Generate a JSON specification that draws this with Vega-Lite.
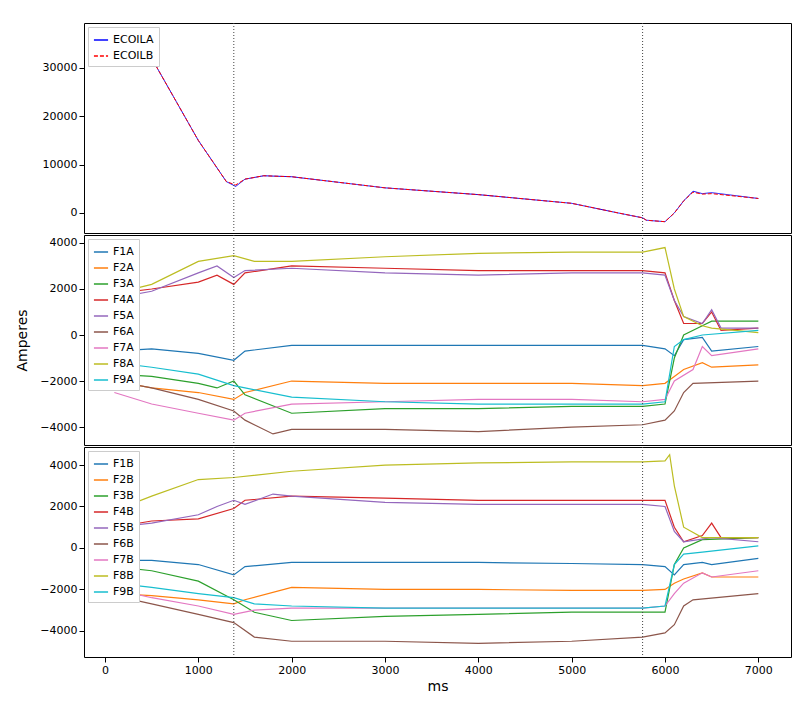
{
"$schema":"https://vega.github.io/schema/vega-lite/v6.json",
"padding":{"left":15,"top":22,"right":5,"bottom":5},
"spacing":0,
"config":{"view":{"stroke":"black","strokeWidth":1},"axis":{"grid":false,"domain":false,"tickColor":"black","labelColor":"black","labelFontSize":11,"labelFont":"DejaVu Sans","titleFont":"DejaVu Sans","titleFontWeight":"normal","titleFontSize":14},"legend":{"labelFont":"DejaVu Sans","labelFontSize":11,"symbolType":"stroke","symbolSize":200,"orient":"top-left","fillColor":"white","strokeColor":"#ccc","padding":5,"rowPadding":3,"offset":4}},
"datasets":{
"vl":[{"t":1380},{"t":5760}],
"top":[
{"s":"ECOILA","t":100,"v":37000},{"s":"ECOILA","t":300,"v":36000},{"s":"ECOILA","t":500,"v":32000},{"s":"ECOILA","t":1000,"v":15000},{"s":"ECOILA","t":1300,"v":6500},{"s":"ECOILA","t":1400,"v":5500},{"s":"ECOILA","t":1500,"v":7000},{"s":"ECOILA","t":1700,"v":7700},{"s":"ECOILA","t":2000,"v":7500},{"s":"ECOILA","t":3000,"v":5200},{"s":"ECOILA","t":4000,"v":3800},{"s":"ECOILA","t":5000,"v":2000},{"s":"ECOILA","t":5500,"v":0},{"s":"ECOILA","t":5760,"v":-1000},{"s":"ECOILA","t":5800,"v":-1500},{"s":"ECOILA","t":6000,"v":-1800},{"s":"ECOILA","t":6100,"v":0},{"s":"ECOILA","t":6200,"v":2500},{"s":"ECOILA","t":6300,"v":4500},{"s":"ECOILA","t":6400,"v":4000},{"s":"ECOILA","t":6500,"v":4200},{"s":"ECOILA","t":7000,"v":3000},
{"s":"ECOILB","t":100,"v":36500},{"s":"ECOILB","t":300,"v":35800},{"s":"ECOILB","t":500,"v":32000},{"s":"ECOILB","t":1000,"v":15000},{"s":"ECOILB","t":1300,"v":6500},{"s":"ECOILB","t":1400,"v":5800},{"s":"ECOILB","t":1500,"v":7000},{"s":"ECOILB","t":1700,"v":7700},{"s":"ECOILB","t":2000,"v":7500},{"s":"ECOILB","t":3000,"v":5200},{"s":"ECOILB","t":4000,"v":3800},{"s":"ECOILB","t":5000,"v":2000},{"s":"ECOILB","t":5500,"v":0},{"s":"ECOILB","t":5760,"v":-1000},{"s":"ECOILB","t":5800,"v":-1500},{"s":"ECOILB","t":6000,"v":-1800},{"s":"ECOILB","t":6100,"v":0},{"s":"ECOILB","t":6200,"v":2500},{"s":"ECOILB","t":6300,"v":4300},{"s":"ECOILB","t":6400,"v":3900},{"s":"ECOILB","t":6500,"v":4000},{"s":"ECOILB","t":7000,"v":3000}],
"mid":[
{"s":"F1A","t":100,"v":-700},{"s":"F1A","t":500,"v":-600},{"s":"F1A","t":1000,"v":-800},{"s":"F1A","t":1380,"v":-1100},{"s":"F1A","t":1500,"v":-700},{"s":"F1A","t":2000,"v":-450},{"s":"F1A","t":3000,"v":-450},{"s":"F1A","t":4000,"v":-450},{"s":"F1A","t":5000,"v":-450},{"s":"F1A","t":5760,"v":-450},{"s":"F1A","t":6000,"v":-600},{"s":"F1A","t":6100,"v":-900},{"s":"F1A","t":6200,"v":-200},{"s":"F1A","t":6400,"v":-100},{"s":"F1A","t":6500,"v":-700},{"s":"F1A","t":7000,"v":-500},
{"s":"F2A","t":100,"v":-2000},{"s":"F2A","t":500,"v":-2300},{"s":"F2A","t":1000,"v":-2500},{"s":"F2A","t":1380,"v":-2800},{"s":"F2A","t":1500,"v":-2500},{"s":"F2A","t":2000,"v":-2000},{"s":"F2A","t":3000,"v":-2100},{"s":"F2A","t":4000,"v":-2100},{"s":"F2A","t":5000,"v":-2100},{"s":"F2A","t":5760,"v":-2200},{"s":"F2A","t":6000,"v":-2100},{"s":"F2A","t":6100,"v":-1800},{"s":"F2A","t":6200,"v":-1500},{"s":"F2A","t":6400,"v":-1200},{"s":"F2A","t":6500,"v":-1400},{"s":"F2A","t":7000,"v":-1300},
{"s":"F3A","t":100,"v":-1700},{"s":"F3A","t":500,"v":-1800},{"s":"F3A","t":1000,"v":-2100},{"s":"F3A","t":1200,"v":-2300},{"s":"F3A","t":1380,"v":-2000},{"s":"F3A","t":1500,"v":-2600},{"s":"F3A","t":2000,"v":-3400},{"s":"F3A","t":3000,"v":-3200},{"s":"F3A","t":4000,"v":-3200},{"s":"F3A","t":5000,"v":-3100},{"s":"F3A","t":5760,"v":-3100},{"s":"F3A","t":6000,"v":-3000},{"s":"F3A","t":6100,"v":-1000},{"s":"F3A","t":6200,"v":0},{"s":"F3A","t":6400,"v":400},{"s":"F3A","t":6500,"v":600},{"s":"F3A","t":7000,"v":600},
{"s":"F4A","t":100,"v":1800},{"s":"F4A","t":500,"v":2000},{"s":"F4A","t":1000,"v":2300},{"s":"F4A","t":1200,"v":2600},{"s":"F4A","t":1380,"v":2200},{"s":"F4A","t":1500,"v":2700},{"s":"F4A","t":2000,"v":3000},{"s":"F4A","t":3000,"v":2900},{"s":"F4A","t":4000,"v":2800},{"s":"F4A","t":5000,"v":2800},{"s":"F4A","t":5760,"v":2800},{"s":"F4A","t":6000,"v":2700},{"s":"F4A","t":6100,"v":1500},{"s":"F4A","t":6200,"v":500},{"s":"F4A","t":6400,"v":500},{"s":"F4A","t":6500,"v":1000},{"s":"F4A","t":6600,"v":200},{"s":"F4A","t":7000,"v":300},
{"s":"F5A","t":100,"v":1600},{"s":"F5A","t":500,"v":1900},{"s":"F5A","t":1000,"v":2700},{"s":"F5A","t":1200,"v":3000},{"s":"F5A","t":1380,"v":2500},{"s":"F5A","t":1500,"v":2800},{"s":"F5A","t":2000,"v":2900},{"s":"F5A","t":3000,"v":2700},{"s":"F5A","t":4000,"v":2600},{"s":"F5A","t":5000,"v":2700},{"s":"F5A","t":5760,"v":2700},{"s":"F5A","t":6000,"v":2600},{"s":"F5A","t":6100,"v":1500},{"s":"F5A","t":6200,"v":800},{"s":"F5A","t":6400,"v":500},{"s":"F5A","t":6500,"v":1100},{"s":"F5A","t":6600,"v":300},{"s":"F5A","t":7000,"v":300},
{"s":"F6A","t":100,"v":-2000},{"s":"F6A","t":500,"v":-2300},{"s":"F6A","t":1000,"v":-2800},{"s":"F6A","t":1380,"v":-3300},{"s":"F6A","t":1500,"v":-3700},{"s":"F6A","t":1800,"v":-4300},{"s":"F6A","t":2000,"v":-4100},{"s":"F6A","t":3000,"v":-4100},{"s":"F6A","t":4000,"v":-4200},{"s":"F6A","t":5000,"v":-4000},{"s":"F6A","t":5760,"v":-3900},{"s":"F6A","t":6000,"v":-3700},{"s":"F6A","t":6100,"v":-3300},{"s":"F6A","t":6200,"v":-2500},{"s":"F6A","t":6300,"v":-2100},{"s":"F6A","t":7000,"v":-2000},
{"s":"F7A","t":100,"v":-2500},{"s":"F7A","t":500,"v":-3000},{"s":"F7A","t":1000,"v":-3400},{"s":"F7A","t":1380,"v":-3700},{"s":"F7A","t":1500,"v":-3400},{"s":"F7A","t":2000,"v":-3000},{"s":"F7A","t":3000,"v":-2900},{"s":"F7A","t":4000,"v":-2800},{"s":"F7A","t":5000,"v":-2800},{"s":"F7A","t":5760,"v":-2900},{"s":"F7A","t":6000,"v":-2800},{"s":"F7A","t":6100,"v":-2000},{"s":"F7A","t":6300,"v":-1500},{"s":"F7A","t":6400,"v":-500},{"s":"F7A","t":6500,"v":-900},{"s":"F7A","t":7000,"v":-600},
{"s":"F8A","t":100,"v":1800},{"s":"F8A","t":500,"v":2200},{"s":"F8A","t":1000,"v":3200},{"s":"F8A","t":1380,"v":3450},{"s":"F8A","t":1600,"v":3200},{"s":"F8A","t":2000,"v":3200},{"s":"F8A","t":3000,"v":3400},{"s":"F8A","t":4000,"v":3550},{"s":"F8A","t":5000,"v":3600},{"s":"F8A","t":5760,"v":3600},{"s":"F8A","t":6000,"v":3800},{"s":"F8A","t":6100,"v":2000},{"s":"F8A","t":6200,"v":800},{"s":"F8A","t":6400,"v":400},{"s":"F8A","t":6500,"v":300},{"s":"F8A","t":7000,"v":100},
{"s":"F9A","t":100,"v":-1200},{"s":"F9A","t":500,"v":-1400},{"s":"F9A","t":1000,"v":-1700},{"s":"F9A","t":1380,"v":-2200},{"s":"F9A","t":1500,"v":-2300},{"s":"F9A","t":2000,"v":-2700},{"s":"F9A","t":3000,"v":-2900},{"s":"F9A","t":4000,"v":-3000},{"s":"F9A","t":5000,"v":-3000},{"s":"F9A","t":5760,"v":-3000},{"s":"F9A","t":6000,"v":-2900},{"s":"F9A","t":6100,"v":-500},{"s":"F9A","t":6200,"v":-200},{"s":"F9A","t":6400,"v":0},{"s":"F9A","t":7000,"v":200}],
"bot":[
{"s":"F1B","t":100,"v":-600},{"s":"F1B","t":500,"v":-600},{"s":"F1B","t":1000,"v":-800},{"s":"F1B","t":1380,"v":-1300},{"s":"F1B","t":1500,"v":-900},{"s":"F1B","t":2000,"v":-700},{"s":"F1B","t":3000,"v":-700},{"s":"F1B","t":4000,"v":-700},{"s":"F1B","t":5000,"v":-750},{"s":"F1B","t":5760,"v":-800},{"s":"F1B","t":6000,"v":-900},{"s":"F1B","t":6100,"v":-1300},{"s":"F1B","t":6200,"v":-800},{"s":"F1B","t":6400,"v":-700},{"s":"F1B","t":6500,"v":-800},{"s":"F1B","t":7000,"v":-500},
{"s":"F2B","t":100,"v":-2200},{"s":"F2B","t":500,"v":-2300},{"s":"F2B","t":1000,"v":-2500},{"s":"F2B","t":1380,"v":-2700},{"s":"F2B","t":1500,"v":-2500},{"s":"F2B","t":2000,"v":-1900},{"s":"F2B","t":3000,"v":-2000},{"s":"F2B","t":4000,"v":-2000},{"s":"F2B","t":5000,"v":-2050},{"s":"F2B","t":5760,"v":-2050},{"s":"F2B","t":6000,"v":-2000},{"s":"F2B","t":6100,"v":-1700},{"s":"F2B","t":6200,"v":-1500},{"s":"F2B","t":6400,"v":-1200},{"s":"F2B","t":6500,"v":-1400},{"s":"F2B","t":7000,"v":-1400},
{"s":"F3B","t":100,"v":-900},{"s":"F3B","t":500,"v":-1100},{"s":"F3B","t":1000,"v":-1600},{"s":"F3B","t":1380,"v":-2500},{"s":"F3B","t":1600,"v":-3100},{"s":"F3B","t":2000,"v":-3500},{"s":"F3B","t":3000,"v":-3300},{"s":"F3B","t":4000,"v":-3200},{"s":"F3B","t":5000,"v":-3100},{"s":"F3B","t":5760,"v":-3100},{"s":"F3B","t":6000,"v":-3100},{"s":"F3B","t":6100,"v":-800},{"s":"F3B","t":6200,"v":0},{"s":"F3B","t":6400,"v":400},{"s":"F3B","t":7000,"v":500},
{"s":"F4B","t":100,"v":1000},{"s":"F4B","t":500,"v":1300},{"s":"F4B","t":1000,"v":1400},{"s":"F4B","t":1380,"v":1900},{"s":"F4B","t":1500,"v":2300},{"s":"F4B","t":2000,"v":2500},{"s":"F4B","t":3000,"v":2400},{"s":"F4B","t":4000,"v":2300},{"s":"F4B","t":5000,"v":2300},{"s":"F4B","t":5760,"v":2300},{"s":"F4B","t":6000,"v":2300},{"s":"F4B","t":6100,"v":1000},{"s":"F4B","t":6200,"v":300},{"s":"F4B","t":6400,"v":600},{"s":"F4B","t":6500,"v":1200},{"s":"F4B","t":6600,"v":500},{"s":"F4B","t":7000,"v":500},
{"s":"F5B","t":100,"v":1000},{"s":"F5B","t":500,"v":1200},{"s":"F5B","t":1000,"v":1600},{"s":"F5B","t":1200,"v":2000},{"s":"F5B","t":1380,"v":2300},{"s":"F5B","t":1500,"v":2100},{"s":"F5B","t":1800,"v":2600},{"s":"F5B","t":2000,"v":2500},{"s":"F5B","t":3000,"v":2200},{"s":"F5B","t":4000,"v":2100},{"s":"F5B","t":5000,"v":2100},{"s":"F5B","t":5760,"v":2100},{"s":"F5B","t":6000,"v":2000},{"s":"F5B","t":6100,"v":800},{"s":"F5B","t":6200,"v":300},{"s":"F5B","t":6500,"v":500},{"s":"F5B","t":7000,"v":300},
{"s":"F6B","t":100,"v":-2300},{"s":"F6B","t":500,"v":-2700},{"s":"F6B","t":1000,"v":-3200},{"s":"F6B","t":1380,"v":-3600},{"s":"F6B","t":1600,"v":-4300},{"s":"F6B","t":2000,"v":-4500},{"s":"F6B","t":3000,"v":-4500},{"s":"F6B","t":4000,"v":-4600},{"s":"F6B","t":5000,"v":-4500},{"s":"F6B","t":5760,"v":-4300},{"s":"F6B","t":6000,"v":-4100},{"s":"F6B","t":6100,"v":-3700},{"s":"F6B","t":6200,"v":-2800},{"s":"F6B","t":6300,"v":-2500},{"s":"F6B","t":7000,"v":-2200},
{"s":"F7B","t":100,"v":-2000},{"s":"F7B","t":500,"v":-2400},{"s":"F7B","t":1000,"v":-2800},{"s":"F7B","t":1380,"v":-3200},{"s":"F7B","t":1600,"v":-3000},{"s":"F7B","t":2000,"v":-2900},{"s":"F7B","t":3000,"v":-2900},{"s":"F7B","t":4000,"v":-2900},{"s":"F7B","t":5000,"v":-2900},{"s":"F7B","t":5760,"v":-2900},{"s":"F7B","t":6000,"v":-2800},{"s":"F7B","t":6100,"v":-2200},{"s":"F7B","t":6200,"v":-1700},{"s":"F7B","t":6400,"v":-1200},{"s":"F7B","t":6500,"v":-1400},{"s":"F7B","t":7000,"v":-1100},
{"s":"F8B","t":100,"v":1800},{"s":"F8B","t":500,"v":2500},{"s":"F8B","t":1000,"v":3300},{"s":"F8B","t":1380,"v":3400},{"s":"F8B","t":2000,"v":3700},{"s":"F8B","t":3000,"v":4000},{"s":"F8B","t":4000,"v":4100},{"s":"F8B","t":5000,"v":4150},{"s":"F8B","t":5760,"v":4150},{"s":"F8B","t":6000,"v":4200},{"s":"F8B","t":6050,"v":4500},{"s":"F8B","t":6100,"v":3000},{"s":"F8B","t":6200,"v":1000},{"s":"F8B","t":6400,"v":500},{"s":"F8B","t":7000,"v":500},
{"s":"F9B","t":100,"v":-1700},{"s":"F9B","t":500,"v":-1900},{"s":"F9B","t":1000,"v":-2200},{"s":"F9B","t":1380,"v":-2400},{"s":"F9B","t":1600,"v":-2700},{"s":"F9B","t":2000,"v":-2800},{"s":"F9B","t":3000,"v":-2900},{"s":"F9B","t":4000,"v":-2900},{"s":"F9B","t":5000,"v":-2900},{"s":"F9B","t":5760,"v":-2900},{"s":"F9B","t":6000,"v":-2800},{"s":"F9B","t":6100,"v":-800},{"s":"F9B","t":6200,"v":-300},{"s":"F9B","t":6400,"v":-200},{"s":"F9B","t":7000,"v":100}]
},
"vconcat":[
{"width":707,"height":210,"layer":[
{"data":{"name":"top"},"mark":{"type":"line","strokeWidth":1},"encoding":{
"x":{"field":"t","type":"quantitative","scale":{"domain":[-225,7350],"nice":false},"axis":{"labels":false,"ticks":true,"tickSize":0,"title":null,"values":[0,1000,2000,3000,4000,5000,6000,7000]}},
"y":{"field":"v","type":"quantitative","scale":{"domain":[-4140,39300],"nice":false},"axis":{"values":[0,10000,20000,30000],"format":"d","title":null}},
"color":{"field":"s","type":"nominal","scale":{"domain":["ECOILA","ECOILB"],"range":["#0000ff","#ff0000"]},"legend":{"title":null}},
"strokeDash":{"field":"s","type":"nominal","scale":{"domain":["ECOILA","ECOILB"],"range":[[1,0],[4,2]]},"legend":{"title":null}}}},
{"data":{"name":"vl"},"mark":{"type":"rule","color":"#444","strokeDash":[1,2],"strokeWidth":1},"encoding":{"x":{"field":"t","type":"quantitative"}}}
]},
{"width":707,"height":210,"layer":[
{"data":{"name":"mid"},"mark":{"type":"line","strokeWidth":1.2},"encoding":{
"x":{"field":"t","type":"quantitative","scale":{"domain":[-225,7350],"nice":false},"axis":{"labels":false,"tickSize":0,"title":null,"values":[0,1000,2000,3000,4000,5000,6000,7000]}},
"y":{"field":"v","type":"quantitative","scale":{"domain":[-4780,4346],"nice":false},"axis":{"values":[-4000,-2000,0,2000,4000],"format":"d","title":"Amperes","titlePadding":10}},
"color":{"field":"s","type":"nominal","scale":{"domain":["F1A","F2A","F3A","F4A","F5A","F6A","F7A","F8A","F9A"],"range":["#1f77b4","#ff7f0e","#2ca02c","#d62728","#9467bd","#8c564b","#e377c2","#bcbd22","#17becf"]},"legend":{"title":null}}}},
{"data":{"name":"vl"},"mark":{"type":"rule","color":"#444","strokeDash":[1,2],"strokeWidth":1},"encoding":{"x":{"field":"t","type":"quantitative"}}}
]},
{"width":707,"height":210,"layer":[
{"data":{"name":"bot"},"mark":{"type":"line","strokeWidth":1.2},"encoding":{
"x":{"field":"t","type":"quantitative","scale":{"domain":[-225,7350],"nice":false},"axis":{"values":[0,1000,2000,3000,4000,5000,6000,7000],"format":"d","title":"ms"}},
"y":{"field":"v","type":"quantitative","scale":{"domain":[-5260,4870],"nice":false},"axis":{"values":[-4000,-2000,0,2000,4000],"format":"d","title":null}},
"color":{"field":"s","type":"nominal","scale":{"domain":["F1B","F2B","F3B","F4B","F5B","F6B","F7B","F8B","F9B"],"range":["#1f77b4","#ff7f0e","#2ca02c","#d62728","#9467bd","#8c564b","#e377c2","#bcbd22","#17becf"]},"legend":{"title":null}}}},
{"data":{"name":"vl"},"mark":{"type":"rule","color":"#444","strokeDash":[1,2],"strokeWidth":1},"encoding":{"x":{"field":"t","type":"quantitative"}}}
]}
],
"resolve":{"scale":{"color":"independent","strokeDash":"independent","y":"independent"},"legend":{"color":"independent"}}
}
